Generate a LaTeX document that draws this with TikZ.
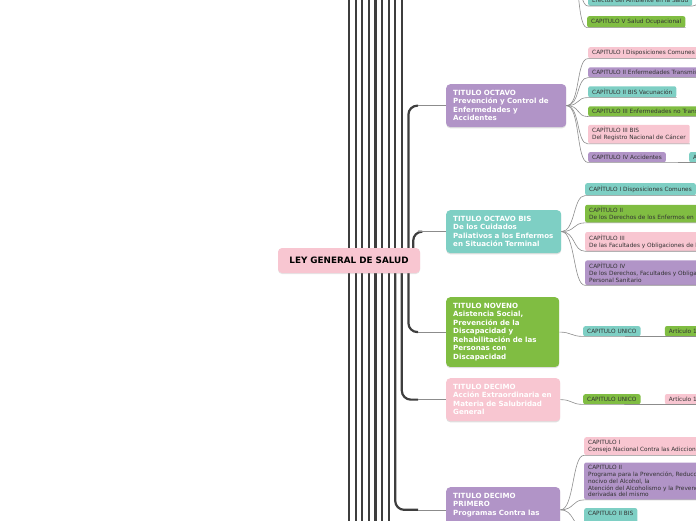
\documentclass[tikz,border=0pt]{standalone}
\usepackage{fontspec}
\setmainfont{DejaVu Sans}
\usetikzlibrary{positioning,shadows,backgrounds}

\definecolor{rosa}{RGB}{248,198,209}
\definecolor{lila}{RGB}{177,148,199}
\definecolor{turq}{RGB}{126,207,196}
\definecolor{verde}{RGB}{128,189,66}
\definecolor{tronco}{RGB}{62,62,62}
\definecolor{gris}{RGB}{140,140,140}
\definecolor{txt}{RGB}{51,51,51}

\begin{document}
\begin{tikzpicture}[
  x=1pt, y=1pt,
  ley/.style={fill=rosa, rounded corners=4pt, minimum width=142pt, minimum height=25pt,
    font=\fontsize{8.8}{10}\selectfont\bfseries,
    drop shadow={opacity=.2, shadow xshift=0pt, shadow yshift=-1pt}},
  ttl/.style={anchor=north west, rounded corners=4pt, text=white, align=left, text width=#1,
    inner xsep=7pt, inner ysep=6pt, font=\fontsize{7.1}{8.5}\selectfont\bfseries,
    drop shadow={opacity=.25, shadow xshift=0pt, shadow yshift=-1.2pt}},
  ttl/.default=100pt,
  capbox/.style={anchor=north west, rounded corners=2pt, text=txt, align=left,
    inner xsep=4pt, inner ysep=2.8pt, font=\fontsize{5.8}{6.8}\selectfont},
  trunk/.style={draw=tronco, line width=2.2pt, rounded corners=9pt},
  rama/.style={draw=gris, line width=0.6pt}
]
\useasboundingbox (0,0) rectangle (696,-520);
\clip (0,0) rectangle (696,-520);

\node[ley] (ley) at (349,-260.5) {LEY GENERAL DE SALUD};

% titulos
\node[ttl=106pt, fill=lila] (t8) at (446,-84) {TITULO OCTAVO\\Prevención y Control de\\Enfermedades y\\Accidentes};
\node[ttl=101pt, fill=turq] (t8b) at (446,-210) {TITULO OCTAVO BIS\\De los Cuidados\\Paliativos a los Enfermos\\en Situación Terminal};
\node[ttl=99pt, fill=verde] (t9) at (446,-297) {TITULO NOVENO\\Asistencia Social,\\Prevención de la\\Discapacidad y\\Rehabilitación de las\\Personas con\\Discapacidad};
\node[ttl, fill=rosa] (t10) at (446,-378) {TITULO DECIMO\\Acción Extraordinaria en\\Materia de Salubridad\\General};
\node[ttl, fill=lila, text depth=28pt] (t11) at (446,-487) {TITULO DECIMO\\PRIMERO\\Programas Contra las};

\begin{pgfonlayer}{background}
\foreach \k in {0,...,8}{
  \coordinate (up\k) at ([xshift=\k*6.6pt, yshift=280pt]ley.center);
  \draw[trunk] ([xshift=\k*6.6pt]ley.center) -- (up\k);
}
\foreach \k in {0,...,6}{
  \coordinate (dn\k) at ([xshift=\k*6.6pt, yshift=-280pt]ley.center);
  \draw[trunk] ([xshift=\k*6.6pt]ley.center) -- (dn\k);
}
\draw[trunk] ([xshift=59.4pt]ley.center) |- ([xshift=-28pt]t8.west) coordinate (k8);
\draw[trunk] ([xshift=-7pt,yshift=-2pt]ley.north east) |- ([xshift=-28pt]t8b.west) coordinate (k8b);
\draw[trunk] ([xshift=59.4pt]ley.center) |- ([xshift=-28pt]t9.west) coordinate (k9);
\draw[trunk] ([xshift=52.8pt]ley.center) |- ([xshift=-28pt]t10.west) coordinate (k10);
\draw[trunk] ([xshift=46.2pt]ley.center) |- ([xshift=-28pt]t11.west) coordinate (k11);
\end{pgfonlayer}
\draw[rama] (k8) -- (t8.west);
\draw[rama] (k8b) -- (t8b.west);
\draw[rama] (k9) -- (t9.west);
\draw[rama] (k10) -- (t10.west);
\draw[rama] (k11) -- (t11.west);

% titulo septimo (arriba, fuera)
\coordinate (t7) at (566,60);
\node[capbox, fill=turq, anchor=south west] (efe) at (588,-6) {Efectos del Ambiente en la Salud};
\node[capbox, fill=verde] (c75) at (587,-16) {CAPITULO V Salud Ocupacional};
\coordinate (efeart) at (712,10);
\draw[rama] (efe.south east) .. controls +(8,0) and +(-8,0) .. (efeart);

% capitulos titulo octavo
\node[capbox, fill=rosa] (c81) at (588,-47) {CAPITULO I Disposiciones Comunes};
\node[capbox, fill=lila, below=8.5pt of c81.south west, anchor=north west] (c82) {CAPITULO II Enfermedades Transmisibles};
\node[capbox, fill=turq, below=8.5pt of c82.south west, anchor=north west] (c83) {CAPÍTULO II BIS Vacunación};
\node[capbox, fill=verde, below=8.5pt of c83.south west, anchor=north west] (c84) {CAPITULO III Enfermedades no Transmisibles};
\node[capbox, fill=rosa, below=8pt of c84.south west, anchor=north west] (c85) {CAPÍTULO III BIS\\Del Registro Nacional de Cáncer};
\node[capbox, fill=lila, below=8pt of c85.south west, anchor=north west] (c86) {CAPITULO IV Accidentes};
\node[capbox, fill=turq, right=23pt of c86] (a86) {Artículo 162};

% capitulos titulo octavo bis
\node[capbox, fill=turq] (c8b1) at (585,-183) {CAPÍTULO I Disposiciones Comunes};
\node[capbox, fill=verde, below=9pt of c8b1.south west, anchor=north west] (c8b2) {CAPÍTULO II\\De los Derechos de los Enfermos en Situación Terminal};
\node[capbox, fill=rosa, below=9pt of c8b2.south west, anchor=north west] (c8b3) {CAPÍTULO III\\De las Facultades y Obligaciones de las Instituciones de Salud};
\node[capbox, fill=lila, below=9pt of c8b3.south west, anchor=north west] (c8b4) {CAPÍTULO IV\\De los Derechos, Facultades y Obligaciones de los Médicos y\\Personal Sanitario};

% titulo noveno y decimo
\node[capbox, fill=turq] (cu9) at (583,-326) {CAPITULO UNICO};
\node[capbox, fill=verde, right=24pt of cu9] (a9) {Artículo 168};
\node[capbox, fill=verde] (cu10) at (583,-394) {CAPITULO UNICO};
\node[capbox, fill=rosa, right=24pt of cu10] (a10) {Artículo 181};

% capitulos titulo decimo primero
\node[capbox, fill=rosa] (c111) at (584,-437) {CAPITULO I\\Consejo Nacional Contra las Adicciones};
\node[capbox, fill=lila, below=7pt of c111.south west, anchor=north west] (c112) {CAPITULO II\\Programa para la Prevención, Reducción y Tratamiento del Uso\\nocivo del Alcohol, la\\Atención del Alcoholismo y la Prevención de las Enfermedades\\derivadas del mismo};
\node[capbox, fill=turq, below=8pt of c112.south west, anchor=north west, text depth=9pt] (c113) {CAPITULO II BIS};

% ramas
\foreach \c in {efe,c75}
  \draw[rama] (t7) .. controls +(14,0) and +(-12,0) .. (\c.south west) -- (\c.south east);
\foreach \c in {c81,c82,c83,c84,c85,c86}
  \draw[rama] (t8.east) .. controls +(14,0) and +(-12,0) .. (\c.south west) -- (\c.south east);
\foreach \c in {c8b1,c8b2,c8b3,c8b4}
  \draw[rama] (t8b.east) .. controls +(14,0) and +(-12,0) .. (\c.south west) -- (\c.south east);
\foreach \c in {c111,c112,c113}
  \draw[rama] (t11.east) .. controls +(14,0) and +(-12,0) .. (\c.south west) -- (\c.south east);
\draw[rama] (t9.east) .. controls +(12,0) and +(-12,0) .. (cu9.south west) -- (a9.south east);
\draw[rama] (t10.east) .. controls +(12,0) and +(-12,0) .. (cu10.south west) -- (a10.south east);
\draw[rama] (c86.south east) -- (a86.south east);
\end{tikzpicture}
\end{document}
